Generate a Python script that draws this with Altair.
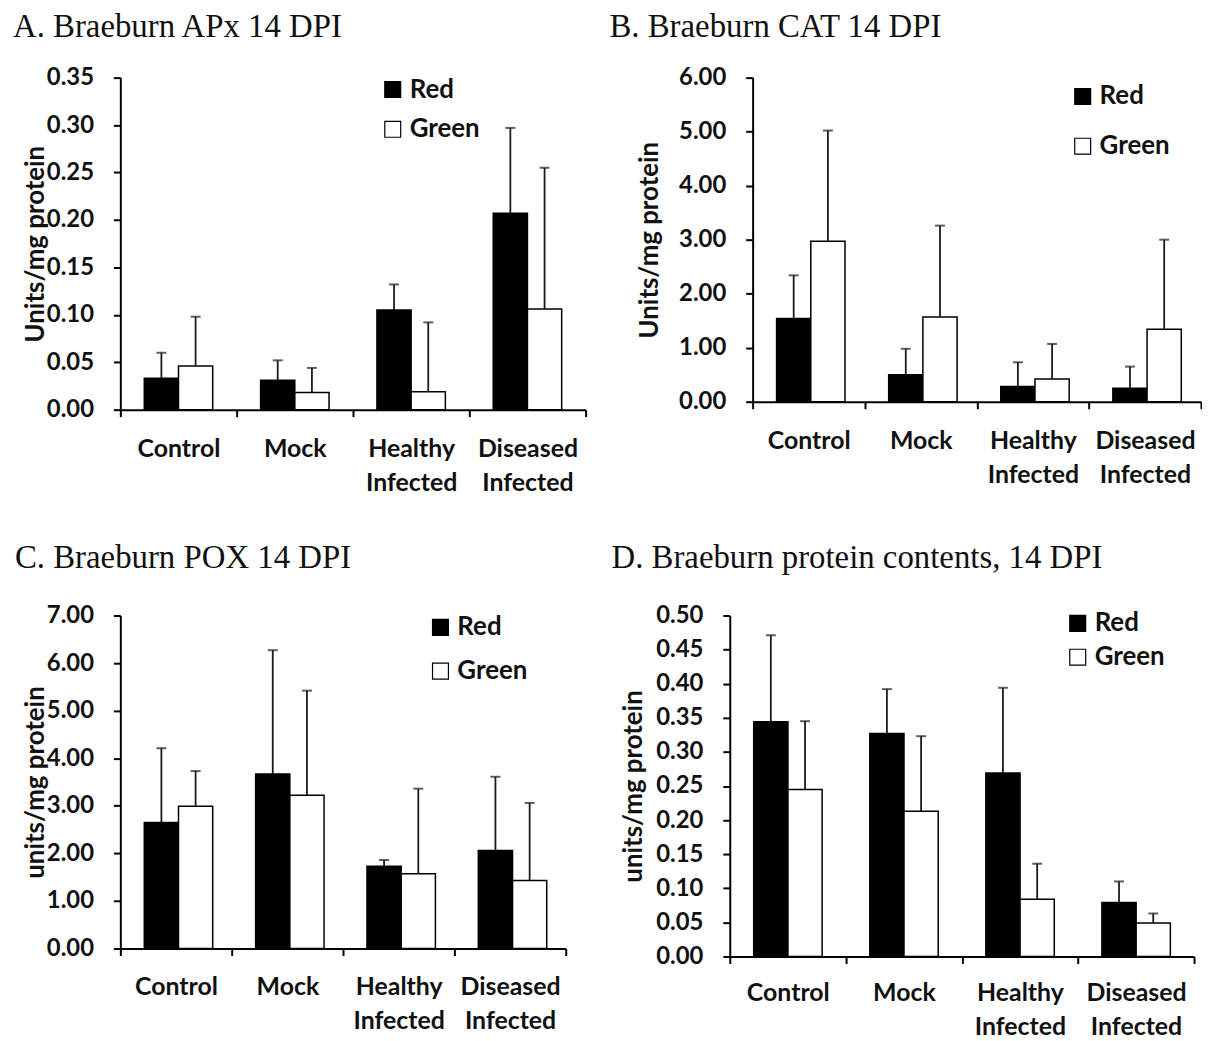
import altair as alt
import pandas as pd

categories = ["Control", "Mock", "Healthy Infected", "Diseased Infected"]
groups = ["Red", "Green"]

# A. APx
apx_red = [0.033, 0.031, 0.105, 0.207]
apx_red_err = [0.027, 0.021, 0.027, 0.090]
apx_green = [0.046, 0.018, 0.019, 0.106]
apx_green_err = [0.052, 0.026, 0.073, 0.149]
apx_ticks = [0.00, 0.05, 0.10, 0.15, 0.20, 0.25, 0.30, 0.35]

# B. CAT
cat_red = [1.54, 0.50, 0.28, 0.25]
cat_red_err = [0.80, 0.48, 0.45, 0.40]
cat_green = [2.97, 1.57, 0.42, 1.34]
cat_green_err = [2.05, 1.69, 0.65, 1.66]
cat_ticks = [0.0, 1.0, 2.0, 3.0, 4.0, 5.0, 6.0]

# C. POX
pox_red = [2.65, 3.67, 1.73, 2.06]
pox_red_err = [1.56, 2.60, 0.13, 1.55]
pox_green = [2.99, 3.22, 1.57, 1.43]
pox_green_err = [0.74, 2.20, 1.79, 1.63]
pox_ticks = [0.0, 1.0, 2.0, 3.0, 4.0, 5.0, 6.0, 7.0]

# D. protein contents
prot_red = [0.344, 0.327, 0.269, 0.079]
prot_red_err = [0.127, 0.065, 0.125, 0.031]
prot_green = [0.245, 0.213, 0.084, 0.049]
prot_green_err = [0.100, 0.110, 0.052, 0.014]
prot_ticks = [0.00, 0.05, 0.10, 0.15, 0.20, 0.25, 0.30, 0.35, 0.40, 0.45, 0.50]

SANS = "Lato"
SERIF = "Liberation Serif"
INK = "#111111"


def panel(title, red, red_err, green, green_err, ticks, ytitle, w, h, q,
          title_dx, title_off, ytitle_x, leg_x, leg_y, leg_pad, xlab_pad):
    df = pd.DataFrame({
        "category": categories * 2,
        "group": ["Red"] * 4 + ["Green"] * 4,
        "mean": red + green,
        "err": red_err + green_err,
    })
    base = alt.Chart(df).transform_calculate(upper="datum.mean + datum.err")

    x = alt.X(
        "category:N", sort=categories,
        scale=alt.Scale(paddingInner=0, paddingOuter=0),
        axis=alt.Axis(
            title=None, labelAngle=0, labelExpr="split(datum.label, ' ')",
            tickBand="extent", tickSize=7, tickWidth=2, tickColor="black",
            domainColor="black", domainWidth=2,
            labelFont=SANS, labelFontSize=25, labelFontWeight="bold",
            labelColor=INK, labelPadding=xlab_pad, labelLineHeight=34,
        ),
    )
    xo = alt.XOffset("group:N", sort=groups,
                     scale=alt.Scale(domain=groups, paddingInner=0, paddingOuter=q))
    y = alt.Y(
        "mean:Q",
        scale=alt.Scale(domain=[0, ticks[-1]], nice=False, zero=True),
        axis=alt.Axis(
            values=ticks, tickCount=len(ticks), format=".2f", title=ytitle,
            tickSize=7, tickWidth=2, tickColor="black",
            domainColor="black", domainWidth=2, grid=False,
            labelFont=SANS, labelFontSize=24, labelFontWeight="bold",
            labelColor=INK, labelPadding=20, labelOverlap=False,
            titleFont=SANS, titleFontSize=26, titleFontWeight="bold",
            titleColor=INK, titleX=ytitle_x, titleY=h / 2,
            titleBaseline="middle", titleAlign="center", titleAngle=-90,
        ),
    )
    color = alt.Color(
        "group:N", sort=groups,
        scale=alt.Scale(domain=groups, range=["black", "white"]),
        legend=alt.Legend(
            title=None, orient="none", legendX=leg_x, legendY=leg_y,
            symbolType="square", symbolSize=256, symbolStrokeColor="black",
            symbolStrokeWidth=1.2, labelFont=SANS, labelFontSize=26,
            labelFontWeight="bold", labelColor=INK, labelOffset=4,
            rowPadding=leg_pad,
        ),
    )

    bars = base.mark_bar(stroke="black", strokeWidth=1.5).encode(
        x=x, xOffset=xo, y=y, color=color
    )
    rules = base.mark_rule(color="#1a1a1a", strokeWidth=1.8).encode(
        x=x, xOffset=xo, y="mean:Q", y2="upper:Q"
    )
    caps = base.mark_tick(color="#1a1a1a", thickness=2, size=10,
                          orient="horizontal").encode(
        x=x, xOffset=xo, y="upper:Q"
    )
    return alt.layer(bars, rules, caps).properties(
        width=w, height=h,
        title=alt.TitleParams(
            text=title, anchor="start", frame="group", dx=title_dx,
            font=SERIF, fontSize=33, fontWeight="normal", color=INK,
            baseline="alphabetic", offset=title_off,
        ),
    )


pA = panel("A. Braeburn APx 14 DPI", apx_red, apx_red_err, apx_green, apx_green_err,
           apx_ticks, "Units/mg protein", 468, 334, 0.70, -108, -4, -85, 261, -1, 14, 20)
pB = panel("B. Braeburn CAT 14 DPI", cat_red, cat_red_err, cat_green, cat_green_err,
           cat_ticks, "Units/mg protein", 451, 326, 0.77, -144, -4, -104, 319, 6, 24, 20)
pC = panel("C. Braeburn POX 14 DPI", pox_red, pox_red_err, pox_green, pox_green_err,
           pox_ticks, "units/mg protein", 448, 335, 0.77, -106, 3, -85, 309, -1, 18, 19)
pD = panel("D. Braeburn protein contents, 14 DPI", prot_red, prot_red_err, prot_green,
           prot_green_err, prot_ticks, "units/mg protein", 467, 343, 0.79, -119, 3, -97,
           337, -5, 8, 17)

row1 = alt.hconcat(pA, pB, spacing=168, bounds="flush").resolve_scale(
    color="independent").resolve_legend(color="independent")
row2 = alt.hconcat(pC, pD, spacing=165, bounds="flush").resolve_scale(
    color="independent").resolve_legend(color="independent")

chart = (
    alt.vconcat(row1, row2, spacing=541, bounds="flush")
    .resolve_scale(color="independent")
    .resolve_legend(color="independent")
    .properties(padding={"left": 5, "top": 0, "right": 0, "bottom": 0},
                background="white")
    .configure_view(stroke=None)
)

chart.save("out.html", embed_options={"renderer": "svg", "actions": False})
